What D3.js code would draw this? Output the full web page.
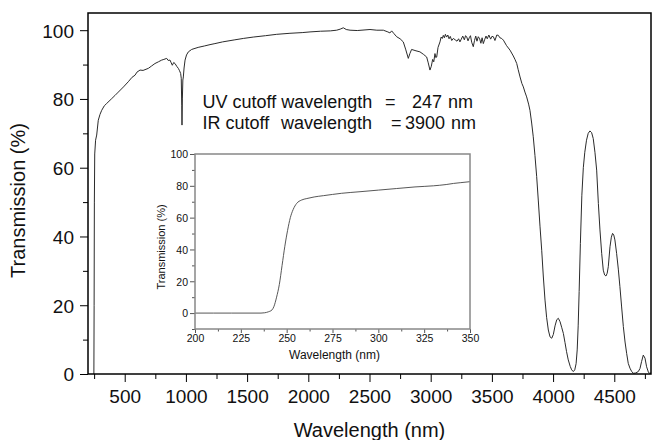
<!DOCTYPE html>
<html>
<head>
<meta charset="utf-8">
<script src="https://cdn.jsdelivr.net/npm/d3@7"></script>
<style>
  body { margin: 0; background: #fff; }
  svg { display: block; }
  text { font-family: "Liberation Sans", Arial, Helvetica, sans-serif; fill: #111; }
</style>
</head>
<body>
<svg id="chart" width="652" height="440"></svg>
<script>
// Full-range transmission spectrum (wavelength in nm, transmission in %)
const wavelength = [248, 250, 252, 255, 262, 271, 284, 298, 312, 333, 353, 394, 420, 448, 490, 529, 560, 584, 600, 625, 650, 693, 720, 747, 775, 802, 820, 843, 855, 870, 880, 889, 900, 911, 925, 938, 948, 957, 962, 966, 968, 971, 975, 979, 985, 993, 1005, 1020, 1047, 1100, 1150, 1197, 1237, 1300, 1400, 1469, 1550, 1650, 1742, 1850, 1950, 2014, 2100, 2180, 2232, 2260, 2286, 2310, 2341, 2400, 2504, 2560, 2613, 2650, 2667, 2681, 2700, 2722, 2750, 2776, 2795, 2817, 2830, 2844, 2880, 2912, 2940, 2967, 2980, 2994, 3005, 3016, 3025, 3035, 3042, 3049, 3060, 3076, 3085, 3095, 3103, 3112, 3120, 3130, 3140, 3150, 3160, 3172, 3185, 3200, 3215, 3228, 3239, 3250, 3262, 3275, 3285, 3294, 3305, 3315, 3325, 3335, 3348, 3358, 3368, 3378, 3389, 3400, 3410, 3420, 3430, 3440, 3452, 3462, 3475, 3490, 3500, 3512, 3525, 3540, 3553, 3565, 3580, 3594, 3620, 3648, 3675, 3690, 3703, 3715, 3730, 3745, 3757, 3770, 3784, 3800, 3811, 3825, 3838, 3852, 3866, 3879, 3893, 3907, 3920, 3934, 3947, 3961, 3975, 3989, 4002, 4016, 4030, 4043, 4057, 4070, 4084, 4097, 4110, 4124, 4140, 4152, 4165, 4177, 4188, 4197, 4205, 4213, 4223, 4235, 4247, 4259, 4273, 4287, 4301, 4315, 4328, 4342, 4356, 4370, 4383, 4397, 4410, 4421, 4432, 4442, 4451, 4465, 4476, 4486, 4496, 4505, 4519, 4533, 4546, 4560, 4574, 4588, 4601, 4614, 4628, 4641, 4655, 4675, 4696, 4710, 4723, 4737, 4751, 4764, 4780, 4791, 4800];
const transmission = [0, 20, 50, 64, 68, 69.5, 73.8, 75.5, 76.7, 78, 78.7, 80.1, 81, 82, 83.5, 85, 86.3, 86.9, 87.8, 88.4, 88.3, 88.9, 89.6, 90.3, 90.8, 91.3, 91.5, 91.8, 91.2, 91.3, 90.5, 89.8, 90.6, 90.3, 89.5, 88.9, 88.2, 87.4, 86, 78, 72.4, 80, 85.5, 86.4, 89, 91.3, 92.8, 93.7, 94.4, 95, 95.4, 95.8, 96.1, 96.6, 97.2, 97.6, 98, 98.4, 98.8, 99.1, 99.3, 99.5, 99.7, 99.8, 100, 100.3, 100.7, 100.2, 100, 99.9, 100.2, 100, 100, 99.5, 99.2, 99.8, 99, 98.1, 97.5, 96.6, 94.5, 91.8, 93.2, 94.4, 94, 93.7, 93, 92.2, 90.5, 88.4, 89.5, 91.5, 90.8, 93.2, 92, 92.2, 95, 96.6, 98, 97.6, 98.5, 97.8, 98.8, 98, 98.6, 97.5, 98.2, 97, 97.6, 97.2, 96.8, 97.5, 96.6, 97.4, 98.3, 97.2, 98.4, 98.1, 96.9, 97.8, 98.4, 96.5, 95.2, 97, 98.3, 96.8, 98.1, 97.5, 96.2, 97.8, 96.1, 97.2, 98.3, 97.5, 98.6, 97.4, 98.2, 98.1, 97, 98.6, 98.5, 97.8, 97.6, 97.1, 95.5, 94.2, 92.5, 91.4, 90.3, 88.5, 86.4, 84.5, 83.5, 82, 80.6, 78.5, 76.7, 73, 69, 63.5, 57.4, 50.6, 43, 36, 28.5, 21.5, 16.5, 12.8, 10.8, 10.4, 11.5, 14, 15.8, 16.2, 15.2, 13.6, 11.8, 9.2, 6.5, 4.1, 2.2, 1.2, 0.7, 1.2, 3, 7, 14, 24, 38, 52, 60, 64.5, 68, 70, 70.7, 70.2, 68.5, 64.5, 59.3, 49.6, 41.9, 35.1, 30.2, 28.8, 28.5, 29.3, 31.2, 37, 39.8, 40.9, 40.4, 39, 35.1, 30.5, 25.4, 19.5, 13.8, 9.3, 6, 3.1, 1.7, 0.8, 0.2, 0.3, 0.7, 1.6, 3.6, 5.5, 4.6, 2.1, 0.4, 0.2, 0.3];

// UV absorption edge (inset)
const uvWavelength = [200, 210, 220, 230, 236, 238, 240, 242, 243, 244.5, 246, 247.5, 249, 250.5, 252, 253.5, 255.5, 258, 261, 265, 270, 280, 290, 300, 310, 320, 330, 337, 341, 345, 350];
const uvTransmission = [0, 0, 0, 0, 0, 0.2, 0.8, 2, 4, 10, 18, 30, 42, 52, 60, 65, 69, 71, 72, 73, 73.8, 75.3, 76.3, 77.3, 78.3, 79.3, 80, 80.8, 81.5, 82, 82.6];

// Tick values
const mainXTicks = [500, 1000, 1500, 2000, 2500, 3000, 3500, 4000, 4500];
const mainXMinor = [250, 750, 1250, 1750, 2250, 2750, 3250, 3750, 4250, 4750];
const mainYTicks = [0, 20, 40, 60, 80, 100];
const mainYMinor = [10, 30, 50, 70, 90];
const insetXTicks = [200, 225, 250, 275, 300, 325, 350];
const insetXMinor = [212.5, 237.5, 262.5, 287.5, 312.5, 337.5];
const insetYTicks = [0, 20, 40, 60, 80, 100];
const insetYMinor = [-10, 10, 30, 50, 70, 90];

// Annotation lines: [text, x] pieces
const cutoffLine1 = [["UV cutoff wavelength", 202.5], ["=", 385], ["247", 412], ["nm", 448]];
const cutoffLine2 = [["IR cutoff", 202.5], ["wavelength", 281], ["=", 391], ["3900", 405], ["nm", 451]];

const svg = d3.select("#chart");

// ---------- main panel ----------
const M = { left: 88, right: 651, top: 13, bottom: 374 };
const x = d3.scaleLinear().domain([200, 4800]).range([M.left, M.right]);
const y = d3.scaleLinear().domain([0, 105]).range([M.bottom, M.top]);

function styleAxis(g, color) {
  g.select(".domain").remove();
  g.selectAll(".tick line").attr("stroke", color).attr("stroke-width", 1);
}

// x axis (major + minor)
const gx = svg.append("g").attr("transform", `translate(0,${M.bottom})`)
  .call(d3.axisBottom(x).tickValues(mainXTicks).tickSize(8).tickSizeOuter(0).tickFormat(d3.format("d")));
styleAxis(gx, "#000");
gx.selectAll(".tick text").attr("y", 29).attr("dy", 0).attr("font-size", 19).attr("fill", "#111");
const gxm = svg.append("g").attr("transform", `translate(0,${M.bottom})`)
  .call(d3.axisBottom(x).tickValues(mainXMinor).tickSize(5).tickFormat(""));
styleAxis(gxm, "#000");

// y axis (major + minor)
const gy = svg.append("g").attr("transform", `translate(${M.left},0)`)
  .call(d3.axisLeft(y).tickValues(mainYTicks).tickSize(8).tickPadding(6).tickFormat(d3.format("d")));
styleAxis(gy, "#000");
gy.selectAll(".tick text").attr("font-size", 19).attr("dy", "0.36em").attr("fill", "#111");
const gym = svg.append("g").attr("transform", `translate(${M.left},0)`)
  .call(d3.axisLeft(y).tickValues(mainYMinor).tickSize(5).tickFormat(""));
styleAxis(gym, "#000");

// spectrum line
const mainData = wavelength.map((w, i) => [w, transmission[i]]);
svg.append("path")
  .datum(mainData)
  .attr("fill", "none")
  .attr("stroke", "#2b2b2b")
  .attr("stroke-width", 1)
  .attr("stroke-linejoin", "round")
  .attr("d", d3.line().x(d => x(d[0])).y(d => y(d[1])));

// frame
svg.append("rect")
  .attr("x", M.left).attr("y", M.top)
  .attr("width", M.right - M.left).attr("height", M.bottom - M.top)
  .attr("fill", "none").attr("stroke", "#000").attr("stroke-width", 1.5);

// axis titles
svg.append("text")
  .attr("x", (M.left + M.right) / 2).attr("y", 437)
  .attr("text-anchor", "middle").attr("font-size", 20)
  .text("Wavelength (nm)");
svg.append("text")
  .attr("transform", `translate(25,${(M.top + M.bottom) / 2 + 7}) rotate(-90)`)
  .attr("text-anchor", "middle").attr("font-size", 20)
  .text("Transmission (%)");

// cutoff annotation
[[cutoffLine1, 107.5], [cutoffLine2, 128.5]].forEach(([parts, baseline]) => {
  const t = svg.append("text").attr("y", baseline).attr("font-size", 18);
  parts.forEach(([s, px]) => t.append("tspan").attr("x", px).text(s));
});

// ---------- inset panel ----------
const I = { left: 195, right: 470, top: 154, bottom: 329 };
const xi = d3.scaleLinear().domain([200, 350]).range([I.left, I.right]);
const yi = d3.scaleLinear().domain([-10, 100]).range([I.bottom, I.top]);

svg.append("rect")
  .attr("x", I.left).attr("y", I.top)
  .attr("width", I.right - I.left).attr("height", I.bottom - I.top)
  .attr("fill", "#fff");

const gxi = svg.append("g").attr("transform", `translate(0,${I.bottom})`)
  .call(d3.axisBottom(xi).tickValues(insetXTicks).tickSize(4).tickFormat(d3.format("d")));
styleAxis(gxi, "#555");
gxi.selectAll(".tick text").attr("y", 12.7).attr("dy", 0).attr("font-size", 10.5).attr("fill", "#222");
const gxim = svg.append("g").attr("transform", `translate(0,${I.bottom})`)
  .call(d3.axisBottom(xi).tickValues(insetXMinor).tickSize(2.5).tickFormat(""));
styleAxis(gxim, "#555");

const gyi = svg.append("g").attr("transform", `translate(${I.left},0)`)
  .call(d3.axisLeft(yi).tickValues(insetYTicks).tickSize(5).tickPadding(2).tickFormat(d3.format("d")));
styleAxis(gyi, "#555");
gyi.selectAll(".tick text").attr("font-size", 10.5).attr("dy", "0.36em").attr("fill", "#222");
const gyim = svg.append("g").attr("transform", `translate(${I.left},0)`)
  .call(d3.axisLeft(yi).tickValues(insetYMinor).tickSize(3).tickFormat(""));
styleAxis(gyim, "#555");

const uvData = uvWavelength.map((w, i) => [w, uvTransmission[i]]);
svg.append("path")
  .datum(uvData)
  .attr("fill", "none")
  .attr("stroke", "#444")
  .attr("stroke-width", 0.9)
  .attr("d", d3.line().curve(d3.curveMonotoneX).x(d => xi(d[0])).y(d => yi(d[1])));

svg.append("rect")
  .attr("x", I.left).attr("y", I.top)
  .attr("width", I.right - I.left).attr("height", I.bottom - I.top)
  .attr("fill", "none").attr("stroke", "#888").attr("stroke-width", 1.5);

svg.append("text")
  .attr("x", (I.left + I.right) / 2 + 2).attr("y", 359)
  .attr("text-anchor", "middle").attr("font-size", 12)
  .text("Wavelength (nm)");
svg.append("text")
  .attr("transform", `translate(164.5,247) rotate(-90)`)
  .attr("text-anchor", "middle").attr("font-size", 11)
  .text("Transmission (%)");
</script>
</body>
</html>
